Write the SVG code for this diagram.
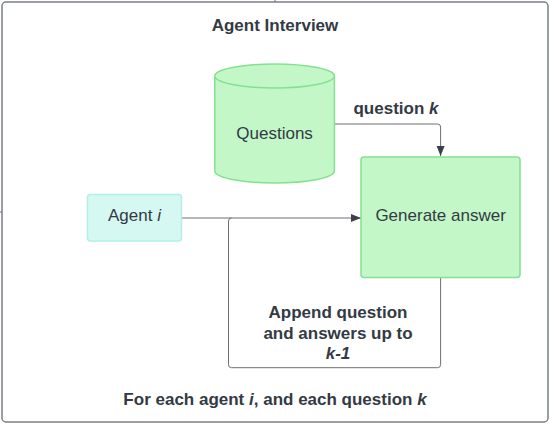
<svg xmlns="http://www.w3.org/2000/svg" width="550" height="425" viewBox="0 0 550 425">
<style>
text{font-family:"Liberation Sans",Arial,sans-serif;font-size:17px;fill:#333a44;text-anchor:middle}
.b{font-weight:bold}
.green{fill:#c3f7c8;stroke:#83e290;stroke-width:1.5}
.cyan{fill:#d5f8f3;stroke:#b3efe6;stroke-width:1.5}
.conn{fill:none;stroke:#6b6f75;stroke-width:1}
</style>
<defs>
<marker id="ah" viewBox="0 0 10 10" refX="10" refY="5" markerWidth="10" markerHeight="10" markerUnits="userSpaceOnUse" orient="auto">
<path d="M0,1 L10,5 L0,9 Z" fill="#3a414a"/>
</marker>
</defs>
<rect width="550" height="425" fill="#ffffff"/>
<line x1="275" y1="0" x2="275" y2="3" stroke="#6b6f75"/>
<line x1="0" y1="212" x2="3" y2="212" stroke="#6b6f75"/>
<g id="container">
<rect x="2" y="2" width="546" height="420" rx="4" fill="#ffffff" stroke="#7b7f85" stroke-width="1.5"/>
<text class="b" x="275" y="31">Agent Interview</text>
<text class="b" x="275" y="405">For each agent <tspan font-style="italic">i</tspan>, and each question <tspan font-style="italic">k</tspan></text>
</g>
<g id="connectors">
<path class="conn" d="M334.5,124 H437.6 Q440.6,124 440.6,127 V156" marker-end="url(#ah)"/>
<path class="conn" d="M181.5,218 H361" marker-end="url(#ah)"/>
<path class="conn" d="M440.6,277.5 V364.7 Q440.6,367.7 437.6,367.7 H231.5 Q228.5,367.7 228.5,364.7 V221 Q228.5,218 231.5,218"/>
<text class="b" x="396" y="114">question <tspan font-style="italic">k</tspan></text>
<text class="b" x="338" y="318">Append question</text>
<text class="b" x="338" y="339">and answers up to</text>
<text class="b" x="338" y="359" font-style="italic">k-1</text>
</g>
<g id="questions">
<path class="green" d="M214.8,76 V171 A59.8,12 0 0 0 334.4,171 V76 A59.8,12 0 0 0 214.8,76 Z"/>
<path class="green" fill="none" d="M214.8,76 A59.8,12 0 0 0 334.4,76"/>
<text x="274.6" y="139">Questions</text>
</g>
<g id="generate">
<rect class="green" x="361" y="157" width="159" height="120.5" rx="3"/>
<text x="440.6" y="221">Generate answer</text>
</g>
<g id="agent">
<rect class="cyan" x="87.5" y="194.5" width="94" height="46.5" rx="3"/>
<text x="134.5" y="221">Agent <tspan font-style="italic">i</tspan></text>
</g>
</svg>
